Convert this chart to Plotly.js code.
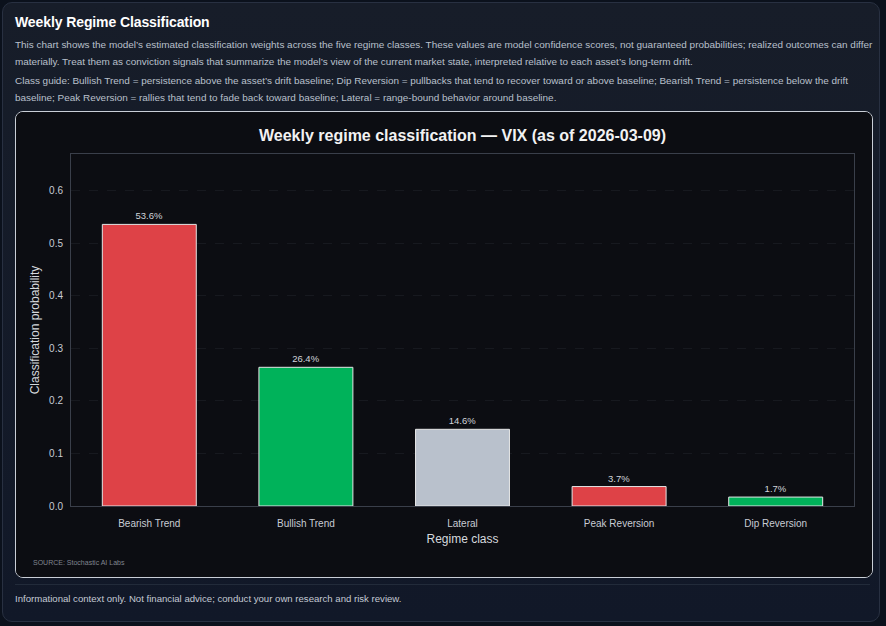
<!DOCTYPE html>
<html><head><meta charset="utf-8">
<script src="https://cdn.plot.ly/plotly-3.0.1.min.js"></script>
<style>
html,body{margin:0;padding:0;background:#0b111c;width:886px;height:626px;overflow:hidden;font-family:"Liberation Sans",Arial,Helvetica,sans-serif;}
.card{position:absolute;left:2px;top:2px;width:876px;height:618px;border:1px solid #283041;border-radius:10px;background:linear-gradient(180deg,#171d29 0%,#111828 100%);}
h1{position:absolute;left:12px;top:11px;margin:0;font-size:14px;font-weight:bold;color:#ffffff;letter-spacing:-0.1px;}
.desc{position:absolute;left:12px;width:862px;margin:0;font-size:9.95px;line-height:16.5px;color:#b9c0cc;}
.chartbox{position:absolute;left:12px;top:108px;width:856px;height:465px;border:1px solid #c9ced6;border-radius:8px;background:#0c0d12;overflow:hidden;}
#chart{width:856px;height:465px;}
.sep{position:absolute;left:12px;top:581px;width:855px;height:1px;background:#222b3a;}
.foot{position:absolute;left:12px;top:590px;font-size:9.6px;color:#c4cad4;}
</style></head>
<body>
<div class="card">
<h1>Weekly Regime Classification</h1>
<p class="desc" style="top:34px;">This chart shows the model’s estimated classification weights across the five regime classes. These values are model confidence scores, not guaranteed probabilities; realized outcomes can differ materially. Treat them as conviction signals that summarize the model’s view of the current market state, interpreted relative to each asset’s long-term drift.</p>
<p class="desc" style="top:70px;">Class guide: Bullish Trend = persistence above the asset’s drift baseline; Dip Reversion = pullbacks that tend to recover toward or above baseline; Bearish Trend = persistence below the drift baseline; Peak Reversion = rallies that tend to fade back toward baseline; Lateral = range-bound behavior around baseline.</p>
<div class="chartbox"><div id="chart"></div></div>
<div class="sep"></div>
<div class="foot">Informational context only. Not financial advice; conduct your own research and risk review.</div>
</div>
<script>
const categories = ["Bearish Trend","Bullish Trend","Lateral","Peak Reversion","Dip Reversion"];
const probabilities = [0.536, 0.264, 0.146, 0.037, 0.017];
const barColors = ["#de4247","#00b25a","#b9c1cc","#de4247","#00b25a"];
const tickVals = [0,0.1,0.2,0.3,0.4,0.5,0.6];
const tickText = ["0.0","0.1","0.2","0.3","0.4","0.5","0.6"];

const labels = probabilities.map(v => (v*100).toFixed(1) + "%");
const trace = {
  type: "bar",
  x: categories,
  y: probabilities,
  text: labels,
  textposition: "outside",
  cliponaxis: false,
  textfont: {size: 9.5, color: "#d0d4da", family: "Liberation Sans, Arial, sans-serif"},
  marker: {color: barColors, line: {color: "#e6e6e6", width: 1}},
  hoverinfo: "skip"
};
const layout = {
  width: 856, height: 465,
  paper_bgcolor: "#0c0d12",
  plot_bgcolor: "#0c0d12",
  margin: {l: 55, r: 18, t: 42, b: 71},
  bargap: 0.4,
  font: {family: "Liberation Sans, Arial, sans-serif", color: "#c8ccd4", size: 11},
  title: {text: "Weekly regime classification — VIX (as of 2026-03-09)", x: 0.5, xref: "paper", xanchor: "center", y: 0.949, yref: "container", yanchor: "middle", font: {size: 16, color: "#f2f2f2", family: "Liberation Sans, Arial, sans-serif", weight: "bold"}},
  xaxis: {
    title: {text: "Regime class", font: {size: 12, color: "#d6d9de"}, standoff: 6},
    showline: true, linecolor: "#3a3f4a", linewidth: 1, mirror: true,
    tickfont: {size: 10, color: "#c8ccd4"}, ticks: "outside", ticklen: 8, tickcolor: "rgba(0,0,0,0)", showgrid: false
  },
  yaxis: {
    title: {text: "Classification probability", font: {size: 12, color: "#d6d9de"}, standoff: 6},
    range: [0, 0.67], tickvals: tickVals, ticktext: tickText,
    showline: true, linecolor: "#3a3f4a", linewidth: 1, mirror: true,
    gridcolor: "#17191f", griddash: "dash", gridwidth: 1, zeroline: false,
    tickfont: {size: 10, color: "#c8ccd4"}, ticks: "outside", ticklen: 5, tickcolor: "rgba(0,0,0,0)"
  },
  annotations: [{text: "SOURCE: Stochastic AI Labs", xref: "paper", yref: "paper", x: -0.051, y: -0.161, xanchor: "left", yanchor: "middle", showarrow: false, font: {size: 7, color: "#80858f"}}],
  showlegend: false
};
Plotly.newPlot("chart", [trace], layout, {displayModeBar: false, staticPlot: true});
</script>
</body></html>
